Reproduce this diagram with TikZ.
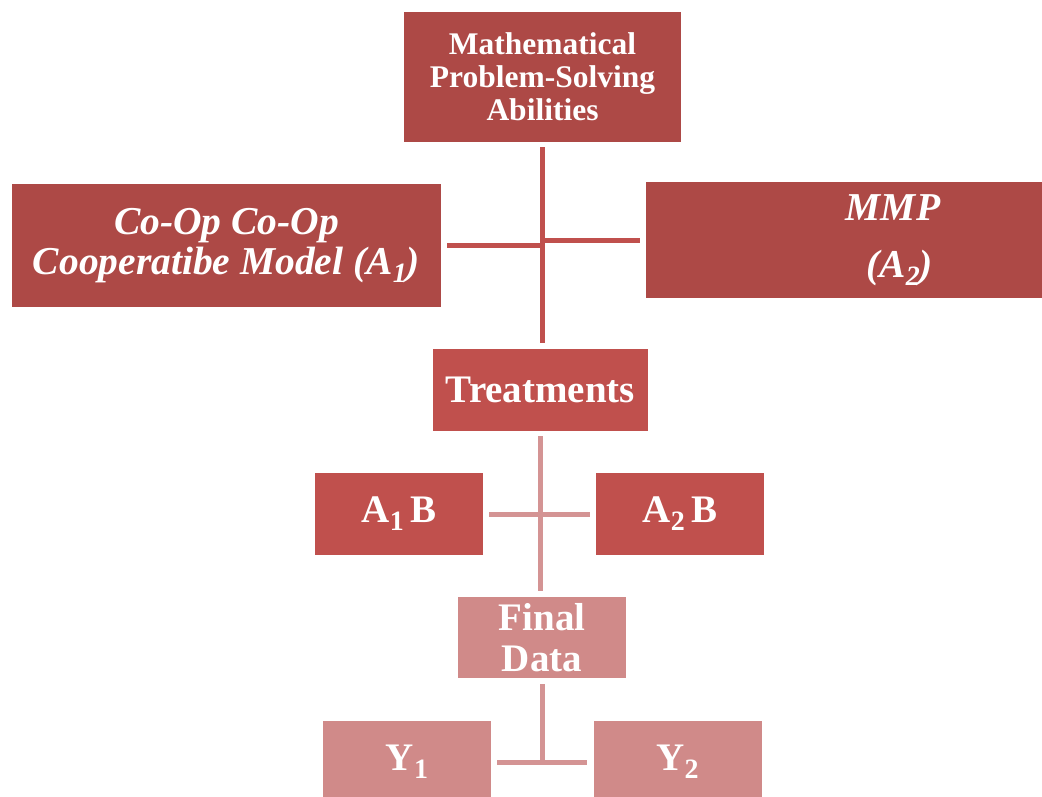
\documentclass[tikz,border=0pt]{standalone}
\usepackage{fontspec}
\setmainfont{Liberation Serif}
\usepackage{tikz}
\usetikzlibrary{calc,positioning}

\definecolor{boxdark}{HTML}{AD4946}
\definecolor{boxmid}{HTML}{C0504D}
\definecolor{boxlight}{HTML}{D08A89}
\definecolor{linelight}{HTML}{D49494}

\newcommand{\lowsub}[1]{\raisebox{-0.45ex}{\fontsize{28}{28}\selectfont #1}}

\begin{document}
\begin{tikzpicture}[
    x=1pt, y=-1pt,
    every node/.style={font=\bfseries\fontsize{39}{41}\selectfont, text=white},
    box/.style={inner sep=0pt, align=center, minimum width=168pt, minimum height=82pt},
    upline/.style={line width=5pt, boxmid},
    lowline/.style={line width=5pt, linelight}
  ]
    \useasboundingbox (0,0) rectangle (1042,796);
    \node[box, fill=boxdark, minimum width=277pt, minimum height=130pt,
          font=\bfseries\fontsize{31.5}{33}\selectfont] (ability) at (542.5,77)
      {Mathematical\\Problem-Solving\\Abilities};
    \node[box, fill=boxdark, minimum width=429pt, minimum height=123pt,
          font=\bfseries\itshape\fontsize{39.5}{40}\selectfont] (coop) at (226.5,245.5)
      {Co-Op Co-Op\\Cooperatibe Model (A\lowsub{1})};
    \node[box, fill=boxdark, minimum width=494pt, minimum height=116pt,
          font=\bfseries\itshape\fontsize{39.5}{44}\selectfont] (mmp) at (893,240)
      {MMP\\[13pt]\,\,(A\lowsub{2})};
    \node[box, fill=boxmid, minimum width=215pt] (treat) at (540.5,390) {Treatments};
    \node[box, fill=boxmid] (aone) at (399,514) {A\lowsub{1}\,B};
    \node[box, fill=boxmid] (atwo) at (680,514) {A\lowsub{2}\,B};
    \node[box, fill=boxlight, minimum height=81pt] (final) at (542,637.5) {Final\\Data};
    \node[box, fill=boxlight] (yone) at (407,762) {Y\lowsub{1}};
    \node[box, fill=boxlight] (ytwo) at (677.5,762) {Y\lowsub{2}};
    \draw[upline] ([yshift=-5pt]ability.south) -- ([yshift=6pt]ability.south |- treat.north);
    \draw[upline] ([xshift=6pt]coop.east) -- (coop.east -| ability.south);
    \draw[upline] (mmp.west -| ability.south) -- ([xshift=-6pt]mmp.west);
    \draw[lowline] ([yshift=-5pt]treat.south) -- ([yshift=6pt]treat.south |- final.north);
    \draw[lowline] ([xshift=6pt]aone.east) -- ([xshift=-6pt]atwo.west);
    \draw[lowline] ([yshift=-6pt]final.south) -- (final.south |- yone.east);
    \draw[lowline] ([xshift=6pt]yone.east) -- ([xshift=-6pt]ytwo.west);
  \end{tikzpicture}
\end{document}
